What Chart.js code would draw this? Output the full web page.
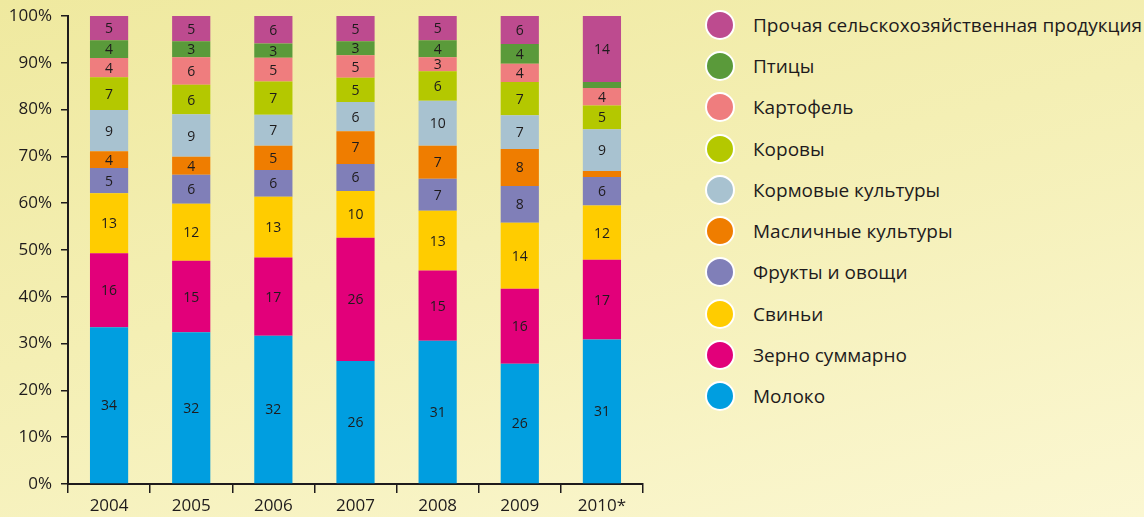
<!DOCTYPE html>
<html>
<head>
<meta charset="utf-8">
<script src="https://cdn.jsdelivr.net/npm/chart.js@4.4.0/dist/chart.umd.min.js"></script>
<style>
    html, body { margin: 0; padding: 0; width: 1144px; height: 517px; overflow: hidden; }
    body { position: relative; background: linear-gradient(165deg, #efe99f 0%, #f4efb4 45%, #fbf7d2 100%); font-family: "Open Sans", sans-serif; }
    #chart_wrap { position: absolute; left: 0; top: 0; width: 660px; height: 517px; }
    #legend { position: absolute; left: 705px; top: 4px; }
    #legend ul { list-style: none; }
    .legends_li { display: flex; align-items: center; height: 41.3px; cursor: pointer; }
    .legend_box { display: inline-block; width: 26px; height: 26px; border-radius: 50%; border: 2px solid #fff; margin-right: 18px; }
    .legend_text { margin: 0; font-size: 19px; color: #1e1b1c; white-space: nowrap; }
</style>
</head>
<body>
<div id="chart_wrap"><canvas id="share_chart"></canvas></div>
<div id="legend"></div>
<script>
// years
var years = ["2004", "2005", "2006", "2007", "2008", "2009", "2010*"];
// shares of each product, %
var milk   = [33.5, 32.4, 31.7, 26.3, 30.6, 25.7, 30.9];
var grain  = [15.8, 15.3, 16.7, 26.3, 15.0, 16.0, 17.0];
var pigs   = [12.8, 12.2, 13.0, 10.0, 12.8, 14.1, 11.6];
var fruit  = [5.4, 6.2, 5.7, 5.8, 6.8, 7.9, 6.1];
var oil    = [3.6, 3.8, 5.2, 7.0, 7.1, 7.9, 1.3];
var fodder = [8.8, 9.1, 6.6, 6.2, 9.6, 7.2, 8.9];
var cows   = [7.0, 6.3, 7.1, 5.2, 6.3, 7.1, 5.1];
var potato = [4.1, 5.9, 5.1, 4.8, 3.0, 3.9, 3.7];
var birds  = [3.8, 3.4, 3.0, 3.0, 3.6, 4.2, 1.3];
var other  = [5.2, 5.4, 5.9, 5.4, 5.2, 6.0, 14.1];
var yTicks = [0, 10, 20, 30, 40, 50, 60, 70, 80, 90, 100];

var seriesNames = ["Молоко", "Зерно суммарно", "Свиньи", "Фрукты и овощи", "Масличные культуры",
    "Кормовые культуры", "Коровы", "Картофель", "Птицы", "Прочая сельскохозяйственная продукция"];
var seriesData = [milk, grain, pigs, fruit, oil, fodder, cows, potato, birds, other];
var seriesColors = ["#009ee0", "#e2007a", "#ffcc00", "#807fb8", "#ef7d00",
    "#a8c2d0", "#b4c800", "#ef7d7e", "#5a9a3a", "#bd4b8f"];

var textColor = "#1e1b1c";

// numbers in the middle of each segment
var segLabelsPlugin = {
    id: "segLabels",
    afterDatasetsDraw(chart) {
        var ctx = chart.ctx;
        ctx.save();
        ctx.font = "14px 'Open Sans', sans-serif";
        ctx.fillStyle = textColor;
        ctx.textAlign = "center";
        ctx.textBaseline = "middle";
        chart.data.datasets.forEach(function (ds, i) {
            var meta = chart.getDatasetMeta(i);
            if (meta.hidden) return;
            meta.data.forEach(function (bar, j) {
                var v = ds.data[j];
                if (v < 2) return;
                var p = bar.getProps(["x", "y", "base"], true);
                ctx.fillText(Math.round(v), p.x, (p.y + p.base) / 2 + 1);
            });
        });
        ctx.restore();
    },
};

var htmlLegendPlugin = {
    id: "htmlLegend",
    afterUpdate(chart, args, options) {
        var box = document.getElementById(options.containerID);
        var ul = box.querySelector("ul");
        if (!ul) {
            ul = document.createElement("ul");
            ul.style.margin = 0;
            ul.style.padding = 0;
            box.appendChild(ul);
        }
        while (ul.firstChild) ul.firstChild.remove();
        var items = chart.options.plugins.legend.labels.generateLabels(chart).reverse();
        items.forEach(function (item) {
            var li = document.createElement("li");
            li.className = "legends_li";
            li.onclick = function () {
                chart.setDatasetVisibility(item.datasetIndex, !chart.isDatasetVisible(item.datasetIndex));
                chart.update();
            };
            var dot = document.createElement("span");
            dot.className = "legend_box";
            dot.style.background = item.fillStyle;
            var p = document.createElement("p");
            p.className = "legend_text";
            p.style.textDecoration = item.hidden ? "line-through" : "";
            p.appendChild(document.createTextNode(item.text));
            li.appendChild(dot);
            li.appendChild(p);
            ul.appendChild(li);
        });
    },
};

var datasets = seriesNames.map(function (name, i) {
    return {
        label: name,
        data: seriesData[i],
        backgroundColor: seriesColors[i],
        borderWidth: 0,
        barPercentage: 0.93,
        categoryPercentage: 0.5,
    };
});

var myChart = new Chart(document.getElementById("share_chart"), {
    type: "bar",
    data: { labels: years, datasets: datasets },
    options: {
        responsive: true,
        maintainAspectRatio: false,
        animation: false,
        layout: { padding: { top: 16, right: 17, left: 0, bottom: 0 } },
        scales: {
            x: {
                stacked: true,
                grid: { display: true, drawOnChartArea: false, drawTicks: true, tickLength: 9, tickColor: textColor, lineWidth: 1.5, offset: true },
                border: { display: true, color: textColor, width: 2 },
                ticks: { color: textColor, font: { family: "'Open Sans', sans-serif", size: 17 }, padding: 3 },
                afterFit: function (scale) { scale.height = 33; },
            },
            y: {
                stacked: true,
                min: 0,
                max: 100,
                grid: { display: true, drawOnChartArea: false, drawTicks: true, tickLength: 7, tickColor: textColor, lineWidth: 1.5 },
                border: { display: true, color: textColor, width: 2 },
                afterBuildTicks: function (scale) { scale.ticks = yTicks.map(function (v) { return { value: v }; }); },
                ticks: {
                    color: textColor,
                    font: { family: "'Open Sans', sans-serif", size: 17 },
                    padding: 9,
                    callback: function (value) { return value + "%"; },
                },
                afterFit: function (scale) {
                    scale.width = 68;
                    scale.paddingTop = 0;
                    scale.paddingBottom = 0;
                },
            },
        },
        plugins: {
            legend: { display: false },
            htmlLegend: { containerID: "legend" },
            tooltip: { enabled: false },
        },
    },
    plugins: [segLabelsPlugin, htmlLegendPlugin],
});
</script>
</body>
</html>
